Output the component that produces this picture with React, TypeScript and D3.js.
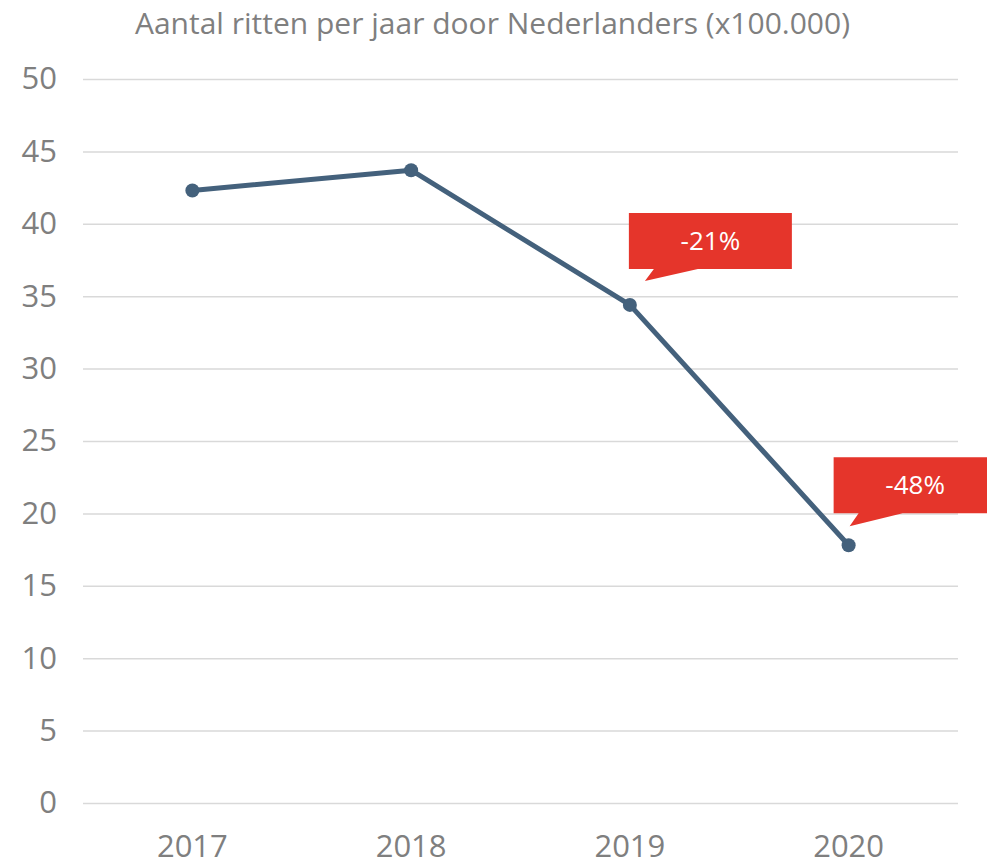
import React, { useEffect, useRef } from "react";
import * as d3 from "d3";

const years = ["2017", "2018", "2019", "2020"];
const trips = [42.3, 43.7, 34.4, 17.8];
const yTicks = [0, 5, 10, 15, 20, 25, 30, 35, 40, 45, 50];
const calloutYears = ["2019", "2020"];
const calloutLabels = ["-21%", "-48%"];

const title = "Aantal ritten per jaar door Nederlanders (x100.000)";

export default function App() {
  const ref = useRef<SVGSVGElement | null>(null);

  useEffect(() => {
    document.body.style.margin = "0";
    const width = 987;
    const height = 865;
    const margin = { top: 79, right: 29, bottom: 62, left: 83 };
    const innerWidth = width - margin.left - margin.right;
    const innerHeight = height - margin.top - margin.bottom;
    const font = "'Segoe UI', 'Open Sans', sans-serif";
    const grey = "#7f7f7f";

    const svg = d3.select(ref.current);
    svg.selectAll("*").remove();

    const x = d3.scaleBand().domain(years).range([0, innerWidth]).padding(0);
    const y = d3.scaleLinear().domain([0, 50]).range([innerHeight, 0]);
    const cx = (yr: string) => (x(yr) as number) + x.bandwidth() / 2;

    svg
      .append("text")
      .attr("x", width / 2 - 1)
      .attr("y", 34)
      .attr("text-anchor", "middle")
      .attr("font-family", font)
      .attr("font-size", 30)
      .attr("fill", grey)
      .text(title);

    const g = svg
      .append("g")
      .attr("transform", `translate(${margin.left},${margin.top})`);

    // gridlines + y labels
    const yAxisG = g
      .append("g")
      .call(
        d3
          .axisLeft(y)
          .tickValues(yTicks)
          .tickSize(-innerWidth)
          .tickPadding(26)
          .tickFormat(d3.format("d"))
      );
    yAxisG.select(".domain").remove();
    yAxisG.selectAll("line").attr("stroke", "#d9d9d9").attr("stroke-width", 1.5);
    yAxisG
      .selectAll("text")
      .attr("fill", grey)
      .attr("font-family", font)
      .attr("font-size", 31);

    const xAxisG = g
      .append("g")
      .attr("transform", `translate(0,${innerHeight})`)
      .call(d3.axisBottom(x).tickSize(0).tickPadding(32));
    xAxisG.select(".domain").remove();
    xAxisG
      .selectAll("text")
      .attr("fill", grey)
      .attr("font-family", font)
      .attr("font-size", 31);

    const points = years.map((yr, i) => ({ year: yr, value: trips[i] }));

    const line = d3
      .line<{ year: string; value: number }>()
      .x((d) => cx(d.year))
      .y((d) => y(d.value));

    g.append("path")
      .datum(points)
      .attr("d", line)
      .attr("fill", "none")
      .attr("stroke", "#44617c")
      .attr("stroke-width", 5)
      .attr("stroke-linejoin", "round");

    g.selectAll("circle")
      .data(points)
      .enter()
      .append("circle")
      .attr("cx", (d) => cx(d.year))
      .attr("cy", (d) => y(d.value))
      .attr("r", 7)
      .attr("fill", "#44617c");

    // red callouts
    const boxW = 163;
    const boxH = 56;
    const offsets = [
      { dx: -1, dy: -92, tipX: 15, tipY: -24 },
      { dx: -15, dy: -88, tipX: 1, tipY: -19 },
    ];
    calloutYears.forEach((yr, i) => {
      const px = cx(yr);
      const py = y(trips[years.indexOf(yr)]);
      const o = offsets[i];
      const bx = px + o.dx;
      const by = py + o.dy;
      g.append("path")
        .attr(
          "d",
          `M${bx},${by}H${bx + boxW}V${by + boxH}H${bx + 69}L${px + o.tipX},${py + o.tipY}L${bx + 25},${by + boxH}H${bx}Z`
        )
        .attr("fill", "#e5352b");
      g.append("text")
        .attr("x", bx + boxW / 2)
        .attr("y", by + boxH / 2)
        .attr("dy", "0.35em")
        .attr("text-anchor", "middle")
        .attr("font-family", font)
        .attr("font-size", 26)
        .attr("fill", "#ffffff")
        .text(calloutLabels[i]);
    });
  }, []);

  return <svg ref={ref} width={987} height={865} style={{ display: "block" }} />;
}
